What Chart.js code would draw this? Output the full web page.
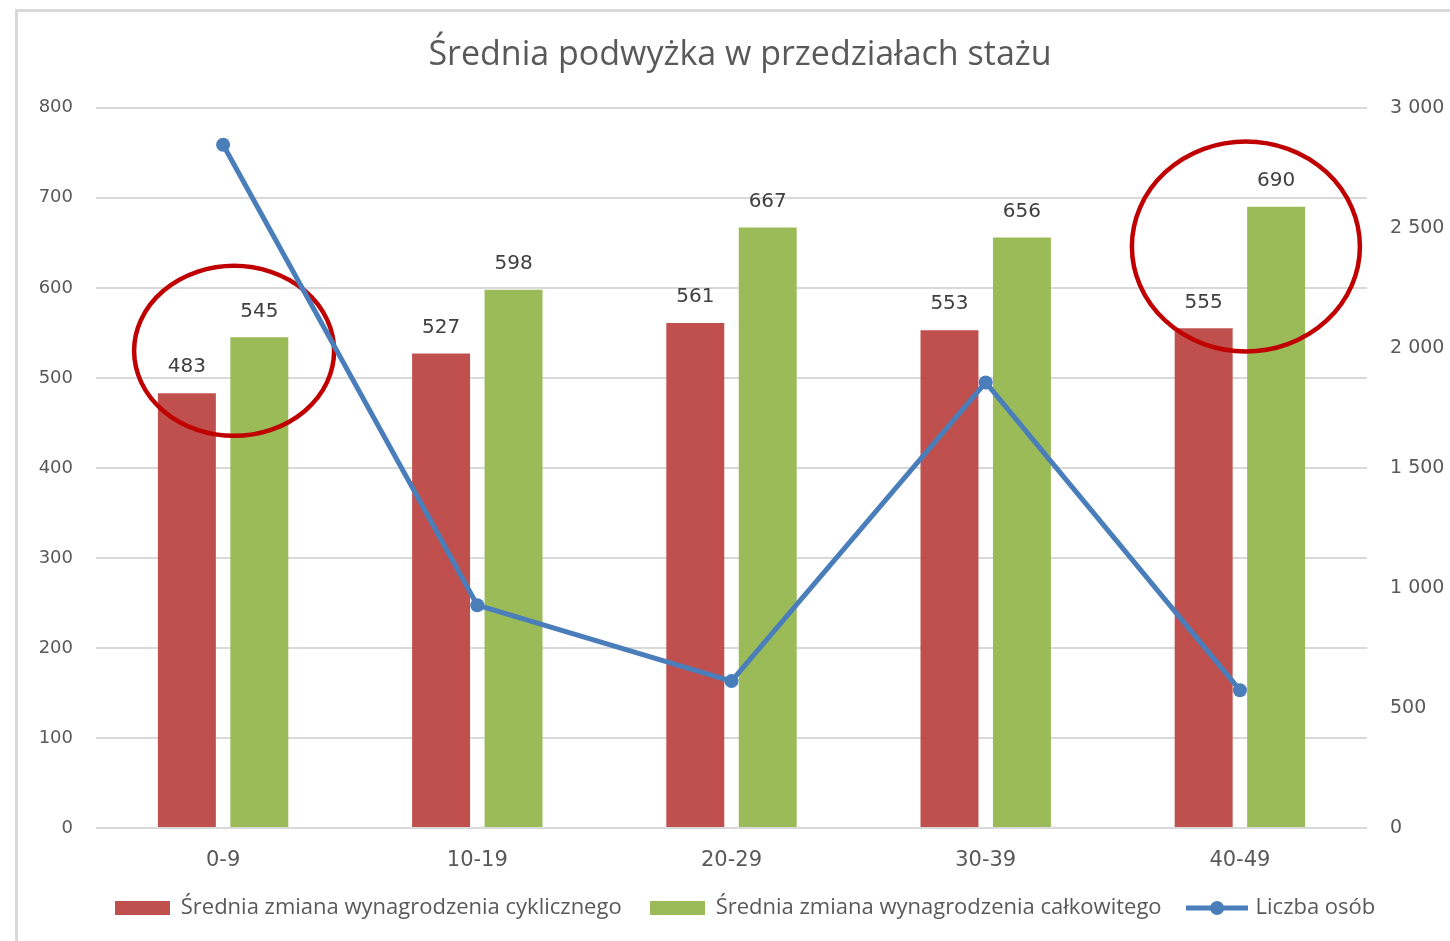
<!DOCTYPE html>
<html>
<head>
<meta charset="utf-8">
<script src="https://cdn.jsdelivr.net/npm/chart.js@4/dist/chart.umd.min.js"></script>
<style>
  html, body { margin: 0; padding: 0; background: #fff; }
  #wrap { width: 1450px; height: 941px; position: relative; }
</style>
</head>
<body>
<div id="wrap"><canvas id="chart"></canvas></div>
<script>
const categories = ['0-9', '10-19', '20-29', '30-39', '40-49'];
const cyclicRaise = [483, 527, 561, 553, 555];
const totalRaise = [545, 598, 667, 656, 690];
const headcount = [2846, 928, 612, 1856, 574];
const leftTicks = [0, 100, 200, 300, 400, 500, 600, 700, 800];
const rightTicks = [0, 500, 1000, 1500, 2000, 2500, 3000];

const RED = '#c0504d';
const GREEN = '#9bbb59';
const BLUE = '#4a7ebb';
const TEXT = '#595959';

// legend swatches
function swatch(color, isLine) {
    const c = document.createElement('canvas');
    c.width = isLine ? 62 : 55;
    c.height = 16;
    const g = c.getContext('2d');
    if (isLine) {
        g.strokeStyle = color;
        g.lineWidth = 5;
        g.beginPath();
        g.moveTo(0, 8);
        g.lineTo(62, 8);
        g.stroke();
        g.fillStyle = color;
        g.beginPath();
        g.arc(31, 8, 7, 0, Math.PI * 2);
        g.fill();
    } else {
        g.fillStyle = color;
        g.fillRect(0, 1, 55, 14);
    }
    return c;
}

const frame = {
    id: 'frame',
    afterLayout(chart) {
        // title and legend sit a bit right of centre in the original
        chart.legend.left += 20;
        chart.legend.right += 20;
        chart.titleBlock.left += 15;
        chart.titleBlock.right += 15;
    },
    beforeDraw(chart) {
        const ctx = chart.ctx;
        ctx.save();
        ctx.fillStyle = '#fff';
        ctx.fillRect(0, 0, chart.width, chart.height);
        ctx.strokeStyle = '#d9d9d9';
        ctx.lineWidth = 3;
        ctx.beginPath();
        ctx.moveTo(16.5, chart.height + 5);
        ctx.lineTo(16.5, 10.5);
        ctx.lineTo(chart.width + 5, 10.5);
        ctx.stroke();
        ctx.restore();
    }
};

const valueLabels = {
    id: 'valueLabels',
    afterDatasetsDraw(chart) {
        const ctx = chart.ctx;
        ctx.save();
        ctx.font = '20px "DejaVu Sans"';
        ctx.fillStyle = '#404040';
        ctx.textAlign = 'center';
        ctx.textBaseline = 'middle';
        [0, 1].forEach(i => {
            chart.getDatasetMeta(i).data.forEach((bar, j) => {
                ctx.fillText(chart.data.datasets[i].data[j], bar.x, bar.y - 26);
            });
        });
        ctx.restore();
    }
};

// red ellipses drawn under the line
const highlights = {
    id: 'highlights',
    beforeDatasetDraw(chart, args) {
        if (args.index !== 2) return;
        const x = chart.scales.x;
        const y = chart.scales.y;
        const marks = [
            { idx: 0, dx: 11, v: 530, rx: 100, ry: 85 },
            { idx: 4, dx: 6, v: 646, rx: 114, ry: 105 }
        ];
        const ctx = chart.ctx;
        ctx.save();
        ctx.strokeStyle = '#c00000';
        ctx.lineWidth = 4.5;
        marks.forEach(m => {
            ctx.beginPath();
            ctx.ellipse(x.getPixelForValue(m.idx) + m.dx, y.getPixelForValue(m.v), m.rx, m.ry, 0, 0, Math.PI * 2);
            ctx.stroke();
        });
        ctx.restore();
    }
};

const spaced = v => String(v).replace(/\B(?=(\d{3})+(?!\d))/g, ' ');

new Chart(document.getElementById('chart'), {
    data: {
        labels: categories,
        datasets: [
            {
                type: 'bar',
                label: 'Średnia zmiana wynagrodzenia cyklicznego',
                data: cyclicRaise,
                backgroundColor: RED,
                yAxisID: 'y',
                order: 1,
                categoryPercentage: 0.57,
                barPercentage: 0.8
            },
            {
                type: 'bar',
                label: 'Średnia zmiana wynagrodzenia całkowitego',
                data: totalRaise,
                backgroundColor: GREEN,
                yAxisID: 'y',
                order: 2,
                categoryPercentage: 0.57,
                barPercentage: 0.8
            },
            {
                type: 'line',
                label: 'Liczba osób',
                data: headcount,
                borderColor: BLUE,
                backgroundColor: BLUE,
                borderWidth: 5,
                pointRadius: 7,
                pointBackgroundColor: BLUE,
                pointBorderWidth: 0,
                yAxisID: 'y1',
                order: 0
            }
        ]
    },
    options: {
        responsive: true,
        maintainAspectRatio: false,
        animation: false,
        layout: { padding: { top: 10, bottom: 12, left: 0, right: 0 } },
        plugins: {
            title: {
                display: true,
                text: 'Średnia podwyżka w przedziałach stażu',
                color: TEXT,
                font: { family: 'Open Sans', size: 34, weight: 'normal' },
                padding: { top: 25, bottom: 32 }
            },
            legend: {
                position: 'bottom',
                labels: {
                    color: TEXT,
                    font: { family: 'Open Sans', size: 22 },
                    usePointStyle: true,
                    pointStyleWidth: 55,
                    padding: 28,
                    generateLabels(chart) {
                        return chart.data.datasets.map((ds, i) => ({
                            text: ds.label,
                            fontColor: TEXT,
                            pointStyle: swatch(i === 0 ? RED : i === 1 ? GREEN : BLUE, i === 2),
                            datasetIndex: i,
                            hidden: false,
                            lineWidth: 0
                        }));
                    }
                }
            },
            tooltip: { enabled: false }
        },
        scales: {
            x: {
                grid: { display: false },
                border: { display: false },
                ticks: {
                    color: TEXT,
                    font: { family: 'DejaVu Sans', size: 21 },
                    padding: 12
                },
                afterFit(s) { s.height = 41; }
            },
            y: {
                position: 'left',
                min: 0,
                max: 800,
                afterBuildTicks(s) { s.ticks = leftTicks.map(v => ({ value: v })); },
                grid: { color: '#d9d9d9', lineWidth: 2, drawTicks: false },
                border: { display: false },
                ticks: {
                    color: TEXT,
                    font: { family: 'DejaVu Sans', size: 18 },
                    padding: 23
                },
                afterFit(s) { s.width = 96; }
            },
            y1: {
                position: 'right',
                min: 0,
                max: 3000,
                afterBuildTicks(s) { s.ticks = rightTicks.map(v => ({ value: v })); },
                grid: { display: false, drawTicks: false },
                border: { display: false },
                ticks: {
                    color: TEXT,
                    font: { family: 'DejaVu Sans', size: 19 },
                    padding: 23,
                    callback: v => spaced(v)
                },
                afterFit(s) { s.width = 83; }
            }
        }
    },
    plugins: [frame, highlights, valueLabels]
});
</script>
</body>
</html>
